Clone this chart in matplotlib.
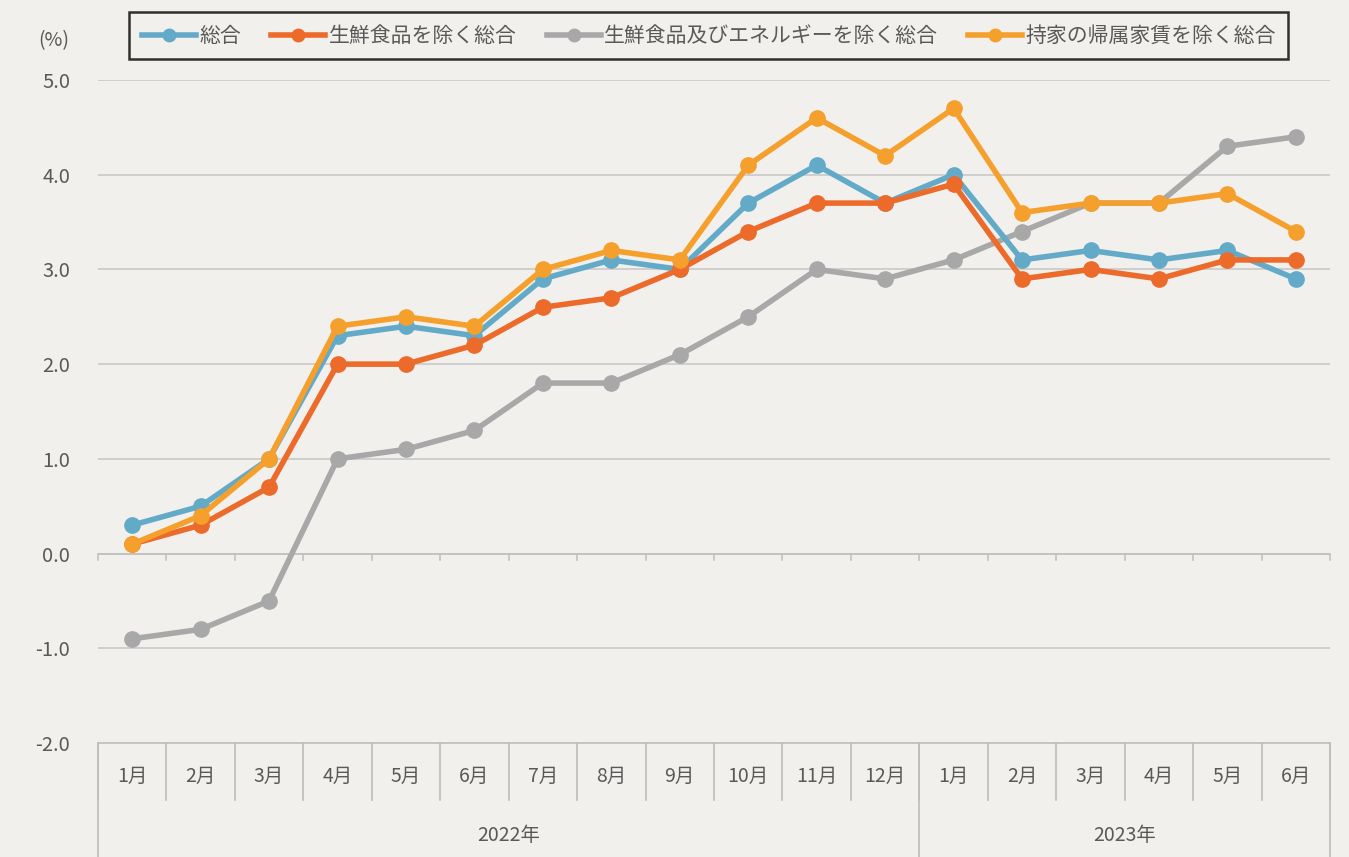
import matplotlib.pyplot as plt
from matplotlib.lines import Line2D

plt.rcParams['font.family'] = ['Noto Sans CJK JP', 'DejaVu Sans']

months = ['1月', '2月', '3月', '4月', '5月', '6月', '7月', '8月', '9月',
          '10月', '11月', '12月', '1月', '2月', '3月', '4月', '5月', '6月']
years = ['2022年', '2023年']
year_len = [12, 6]

sogo = [0.3, 0.5, 1.0, 2.3, 2.4, 2.3, 2.9, 3.1, 3.0, 3.7, 4.1, 3.7,
        4.0, 3.1, 3.2, 3.1, 3.2, 2.9]
core = [0.1, 0.3, 0.7, 2.0, 2.0, 2.2, 2.6, 2.7, 3.0, 3.4, 3.7, 3.7,
        3.9, 2.9, 3.0, 2.9, 3.1, 3.1]
core_core = [-0.9, -0.8, -0.5, 1.0, 1.1, 1.3, 1.8, 1.8, 2.1, 2.5, 3.0, 2.9,
             3.1, 3.4, 3.7, 3.7, 4.3, 4.4]
no_rent = [0.1, 0.4, 1.0, 2.4, 2.5, 2.4, 3.0, 3.2, 3.1, 4.1, 4.6, 4.2,
           4.7, 3.6, 3.7, 3.7, 3.8, 3.4]

names = ['総合', '生鮮食品を除く総合', '生鮮食品及びエネルギーを除く総合', '持家の帰属家賃を除く総合']
colors = ['#63aac9', '#ec6a2a', '#a8a8a8', '#f5a02c']

bg = '#f1f0ed'
txt = '#595959'
fig = plt.figure(figsize=(13.49, 8.57), dpi=100, facecolor=bg)
ax = fig.add_axes([0.0726, 0.133, 0.9134, 0.7737], facecolor=bg)

x = list(range(len(months)))
for vals, c in zip([core_core, sogo, core, no_rent], [colors[2], colors[0], colors[1], colors[3]]):
    ax.plot(x, vals, color=c, lw=4, marker='o', ms=11, zorder=3)

ax.set_xlim(-0.5, len(months) - 0.5)
ax.set_ylim(-2, 5)
ax.set_yticks([-2, -1, 0, 1, 2, 3, 4, 5])
ax.set_yticklabels([f'{v:.1f}' for v in ax.get_yticks()], color=txt, fontsize=14.5)
ax.tick_params(axis='y', length=0, pad=20)
ax.set_xticks([])
for s in ax.spines.values():
    s.set_visible(False)
for v in [-1, 1, 2, 3, 4, 5]:
    ax.axhline(v, color='#c9c9c7', lw=1.2, zorder=1)
ax.axhline(0, color='#c2c2c0', lw=1.4, zorder=1)
for i in range(len(months) + 1):
    ax.plot([i - 0.5, i - 0.5], [0, -0.07], color='#c2c2c0', lw=1.2, zorder=1, clip_on=False)

# category table under the plot
tr = ax.get_xaxis_transform()
line_kw = dict(color='#bdbdbb', lw=1.2, clip_on=False, transform=tr)
ax.plot([-0.5, len(months) - 0.5], [0, 0], **line_kw)
r1, r2 = -0.086, -0.175
for i in range(len(months) + 1):
    ax.plot([i - 0.5, i - 0.5], [0, r1], **line_kw)
for i, m in enumerate(months):
    ax.text(i, -0.051, m, ha='center', va='center', fontsize=14, color=txt, transform=tr)
start = 0
for y, n in zip(years, year_len):
    ax.plot([start - 0.5, start - 0.5], [0, r2], **line_kw)
    ax.text(start + (n - 1) / 2, -0.14, y, ha='center', va='center', fontsize=14,
            color=txt, transform=tr)
    start += n
ax.plot([start - 0.5, start - 0.5], [0, r2], **line_kw)

fig.text(0.028, 0.953, '(%)', fontsize=14, color=txt, va='center')

handles = [Line2D([], [], color=c, lw=4, marker='o', ms=9) for c in colors]
leg = fig.legend(handles, names, loc='center', bbox_to_anchor=(0.5255, 0.958), ncol=4,
                 fontsize=15, frameon=True, fancybox=False, handlelength=2.6,
                 columnspacing=1.45, handletextpad=0.15, borderpad=0.6,
                 borderaxespad=0)
leg.get_frame().set_edgecolor('black')
leg.get_frame().set_linewidth(1.8)
leg.get_frame().set_facecolor(bg)
for t in leg.get_texts():
    t.set_color(txt)

fig.savefig('out.png', dpi=100, facecolor=bg)
